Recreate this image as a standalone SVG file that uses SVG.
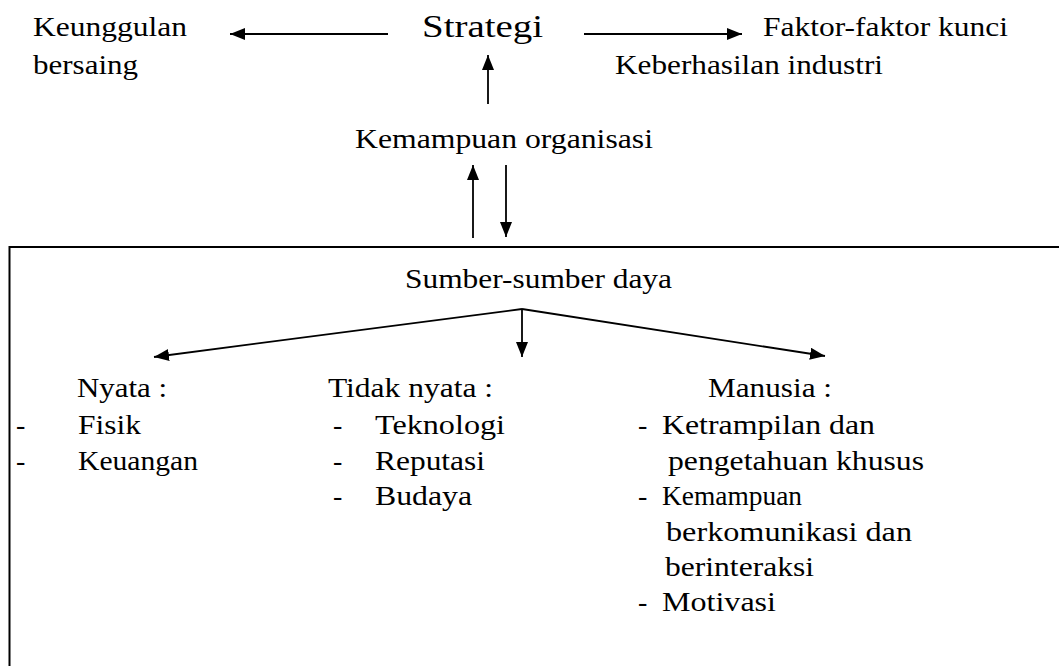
<svg xmlns="http://www.w3.org/2000/svg" width="1059" height="666" viewBox="0 0 1059 666">
<defs>
<marker id="ah" markerUnits="userSpaceOnUse" markerWidth="15" markerHeight="12" refX="15" refY="6" orient="auto">
<path d="M0,0 L15,6 L0,12 z" fill="#000"/>
</marker>
<style>
.c line{stroke:#000;stroke-width:1.8;fill:none}
.box{fill:none;stroke:#000;stroke-width:2}
</style>
</defs>
<rect width="1059" height="666" fill="#fff"/>
<g id="keunggulan"><text font-family="Liberation Serif" font-size="28" x="33" y="36" textLength="154" lengthAdjust="spacingAndGlyphs">Keunggulan</text><text font-family="Liberation Serif" font-size="28" x="33" y="74" textLength="105" lengthAdjust="spacingAndGlyphs">bersaing</text></g>
<g id="strategi"><text font-family="Liberation Serif" font-size="32" x="422" y="37" textLength="121" lengthAdjust="spacingAndGlyphs">Strategi</text></g>
<g id="faktor"><text font-family="Liberation Serif" font-size="28" x="763" y="36" textLength="245" lengthAdjust="spacingAndGlyphs">Faktor-faktor kunci</text><text font-family="Liberation Serif" font-size="28" x="615" y="74" textLength="268" lengthAdjust="spacingAndGlyphs">Keberhasilan industri</text></g>
<g id="kemampuan"><text font-family="Liberation Serif" font-size="28" x="355" y="148" textLength="298" lengthAdjust="spacingAndGlyphs">Kemampuan organisasi</text></g>
<g id="sumber">
<rect class="box" x="9.5" y="247" width="1100" height="500"/>
<text font-family="Liberation Serif" font-size="28" x="405" y="288" textLength="267" lengthAdjust="spacingAndGlyphs">Sumber-sumber daya</text>
</g>
<g id="nyata">
<text font-family="Liberation Serif" font-size="28" x="77" y="397" textLength="90" lengthAdjust="spacingAndGlyphs">Nyata :</text>
<text font-family="Liberation Serif" font-size="28" x="16" y="434">-</text><text font-family="Liberation Serif" font-size="28" x="78" y="434" textLength="63" lengthAdjust="spacingAndGlyphs">Fisik</text>
<text font-family="Liberation Serif" font-size="28" x="16" y="470">-</text><text font-family="Liberation Serif" font-size="28" x="78" y="470" textLength="120" lengthAdjust="spacingAndGlyphs">Keuangan</text>
</g>
<g id="tidaknyata">
<text font-family="Liberation Serif" font-size="28" x="328" y="397" textLength="165" lengthAdjust="spacingAndGlyphs">Tidak nyata :</text>
<text font-family="Liberation Serif" font-size="28" x="333" y="434">-</text><text font-family="Liberation Serif" font-size="28" x="375" y="434" textLength="130" lengthAdjust="spacingAndGlyphs">Teknologi</text>
<text font-family="Liberation Serif" font-size="28" x="333" y="470">-</text><text font-family="Liberation Serif" font-size="28" x="375" y="470" textLength="110" lengthAdjust="spacingAndGlyphs">Reputasi</text>
<text font-family="Liberation Serif" font-size="28" x="333" y="505">-</text><text font-family="Liberation Serif" font-size="28" x="375" y="505" textLength="97" lengthAdjust="spacingAndGlyphs">Budaya</text>
</g>
<g id="manusia">
<text font-family="Liberation Serif" font-size="28" x="708" y="397" textLength="124" lengthAdjust="spacingAndGlyphs">Manusia :</text>
<text font-family="Liberation Serif" font-size="28" x="638" y="434">-</text><text font-family="Liberation Serif" font-size="28" x="662" y="434" textLength="213" lengthAdjust="spacingAndGlyphs">Ketrampilan dan</text>
<text font-family="Liberation Serif" font-size="28" x="668" y="470" textLength="256" lengthAdjust="spacingAndGlyphs">pengetahuan khusus</text>
<text font-family="Liberation Serif" font-size="28" x="638" y="505">-</text><text font-family="Liberation Serif" font-size="28" x="662" y="505" textLength="140" lengthAdjust="spacingAndGlyphs">Kemampuan</text>
<text font-family="Liberation Serif" font-size="28" x="666" y="541" textLength="246" lengthAdjust="spacingAndGlyphs">berkomunikasi dan</text>
<text font-family="Liberation Serif" font-size="28" x="665" y="576" textLength="149" lengthAdjust="spacingAndGlyphs">berinteraksi</text>
<text font-family="Liberation Serif" font-size="28" x="638" y="611">-</text><text font-family="Liberation Serif" font-size="28" x="662" y="611" textLength="114" lengthAdjust="spacingAndGlyphs">Motivasi</text>
</g>
<g id="connectors" class="c">
<line x1="388" y1="34" x2="230" y2="34" marker-end="url(#ah)"/>
<line x1="584" y1="34" x2="742" y2="34" marker-end="url(#ah)"/>
<line x1="488" y1="104" x2="488" y2="55" marker-end="url(#ah)"/>
<line x1="473" y1="238" x2="473" y2="165" marker-end="url(#ah)"/>
<line x1="506" y1="165" x2="506" y2="237" marker-end="url(#ah)"/>
<line x1="522" y1="309" x2="154" y2="357" marker-end="url(#ah)"/>
<line x1="522" y1="309" x2="825" y2="356" marker-end="url(#ah)"/>
<line x1="522" y1="309" x2="522" y2="357" marker-end="url(#ah)"/>
</g>
</svg>
